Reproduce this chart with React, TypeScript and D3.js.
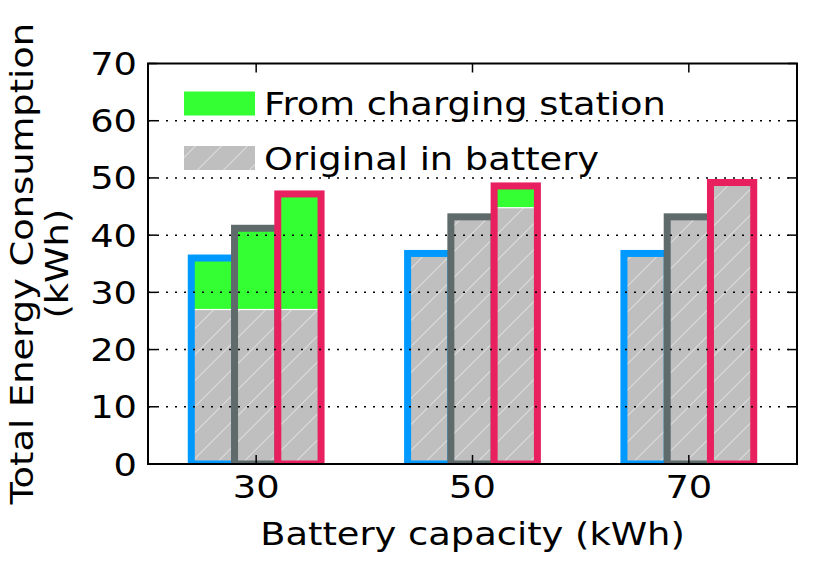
import React from 'react';
import * as d3 from 'd3';

// battery capacity groups (kWh)
const capacities = [30, 50, 70];
// three bar series per group, left to right
const seriesColors = ['#0099ff', '#5f6b6b', '#e8205f'];
// total energy consumption per series, per capacity
const totalValues = [
  [36.0, 36.8, 36.8],
  [41.2, 43.2, 43.2],
  [47.2, 48.6, 49.2],
];
// part originally stored in the battery
const originalValues = [
  [27.0, 36.8, 36.8],
  [27.0, 43.2, 43.2],
  [27.0, 44.8, 49.2],
];
const yTicks = [0, 10, 20, 30, 40, 50, 60, 70];
const legendLabels = ['From charging station', 'Original in battery'];

const W = 830;
const H = 581;
const margin = { top: 63.5, right: 33, bottom: 117, left: 148 };
const FONT = 'DejaVu Sans, sans-serif';
const SX = 1.15; // the reference glyphs are a bit wider than DejaVu at this size

function Label({ x, y, anchor = 'start', rotate = 0, dy, children }: any) {
  return (
    <g transform={`translate(${x},${y}) rotate(${rotate}) scale(${SX},1)`}>
      <text x={0} y={0} dy={dy} textAnchor={anchor} fontSize={32}>{children}</text>
    </g>
  );
}

export default function App() {
  const iw = W - margin.left - margin.right;
  const ih = H - margin.top - margin.bottom;

  const x = d3.scaleLinear().domain([20, 80]).range([0, iw]);
  const y = d3.scaleLinear().domain([0, 70]).range([ih, 0]);
  const barW = 4; // in kWh units
  const offsets = [-barW, 0, barW];

  const bars: any[] = [];
  seriesColors.forEach((color, s) => {
    capacities.forEach((cap, g) => {
      const cx = cap + offsets[s];
      const x0 = x(cx - barW / 2);
      const x1 = x(cx + barW / 2);
      const orig = originalValues[s][g];
      const tot = totalValues[s][g];
      bars.push(
        <g key={`${s}-${g}`}>
          <rect x={x0} y={y(orig)} width={x1 - x0} height={y(0) - y(orig)}
            fill="url(#hatch)" stroke="#ffffff" strokeWidth={1.2} />
          {tot > orig + 0.05 && (
            <rect x={x0} y={y(tot)} width={x1 - x0} height={y(orig) - y(tot) - 0.6}
              fill="#33ff33" />
          )}
          <rect x={x0} y={y(tot)} width={x1 - x0} height={y(0) - y(tot)}
            fill="none" stroke={color} strokeWidth={7} />
        </g>
      );
    });
  });

  const tickLen = 9;

  return (
    <svg width={W} height={H} style={{ position: 'absolute', left: 0, top: 0, background: '#fff' }}
      fontFamily={FONT}>
      <defs>
        <pattern id="hatch" patternUnits="userSpaceOnUse" width={26} height={26}>
          <rect width={26} height={26} fill="#bfbfbf" />
          <path d="M0,26 L26,0 M-13,13 L13,-13 M13,39 L39,13" stroke="#ffffff"
            strokeOpacity={0.65} strokeWidth={1} />
        </pattern>
        <clipPath id="plotClip">
          <rect x={0} y={0} width={iw} height={ih} />
        </clipPath>
      </defs>
      <g transform={`translate(${margin.left},${margin.top})`}>
        <g clipPath="url(#plotClip)">{bars}</g>

        {/* grid lines */}
        {yTicks.slice(1, -1).map(t => (
          <line key={t} x1={0} x2={iw} y1={y(t)} y2={y(t)} stroke="#000"
            strokeWidth={1.5} strokeDasharray="2,7" />
        ))}

        {/* ticks, inward on all sides */}
        {yTicks.map(t => (
          <g key={t}>
            <line x1={0} x2={tickLen} y1={y(t)} y2={y(t)} stroke="#000" strokeWidth={1.5} />
            <line x1={iw - tickLen} x2={iw} y1={y(t)} y2={y(t)} stroke="#000" strokeWidth={1.5} />
            <Label x={-11} y={y(t)} dy="0.36em" anchor="end">{t}</Label>
          </g>
        ))}
        {capacities.map(c => (
          <g key={c}>
            <line x1={x(c)} x2={x(c)} y1={ih} y2={ih - tickLen} stroke="#000" strokeWidth={1.5} />
            <line x1={x(c)} x2={x(c)} y1={0} y2={tickLen} stroke="#000" strokeWidth={1.5} />
            <Label x={x(c)} y={ih + 34} anchor="middle">{c}</Label>
          </g>
        ))}

        <rect x={0} y={0} width={iw} height={ih} fill="none" stroke="#000" strokeWidth={2} />

        {/* legend */}
        <rect x={36} y={28} width={71} height={24} fill="#33ff33" />
        <Label x={116} y={51.5}>{legendLabels[0]}</Label>
        <rect x={36} y={82.5} width={71} height={24} fill="url(#hatch)" />
        <Label x={116} y={106.5}>{legendLabels[1]}</Label>

        <Label x={iw / 2} y={ih + 81} anchor="middle">Battery capacity (kWh)</Label>
      </g>
      <Label x={33} y={margin.top + ih / 2} rotate={-90} anchor="middle">Total Energy Consumption</Label>
      <Label x={68} y={margin.top + ih / 2} rotate={-90} anchor="middle">(kWh)</Label>
    </svg>
  );
}
